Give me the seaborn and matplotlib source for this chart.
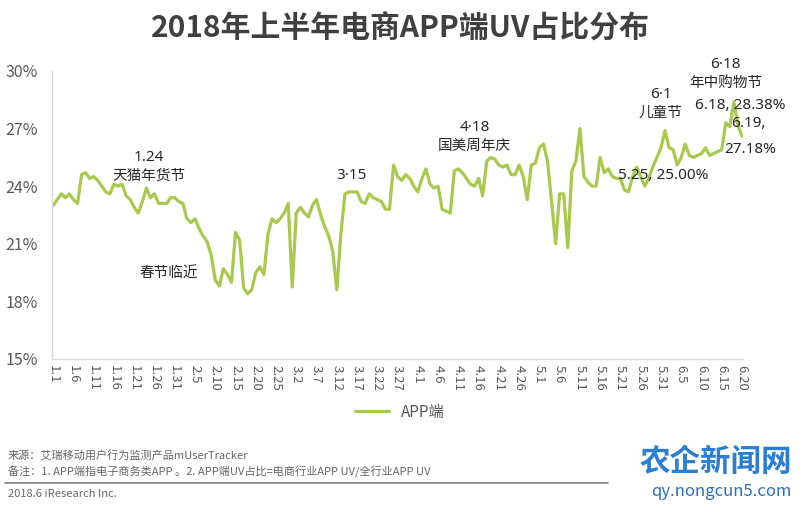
import numpy as np
import pandas as pd
import seaborn as sns
import matplotlib.pyplot as plt

# daily share of e-commerce APP UV, 1.1 - 6.20 (2018), percent
uv_share = [
    23.0, 23.3, 23.6, 23.4, 23.6, 23.3, 23.1, 24.6, 24.7, 24.4,   # 1.1 - 1.10
    24.5, 24.3, 24.0, 23.7, 23.6, 24.1, 24.0, 24.1, 23.5, 23.3,   # 1.11 - 1.20
    22.9, 22.6, 23.2, 23.9, 23.4, 23.6, 23.1, 23.1, 23.1, 23.4,   # 1.21 - 1.30
    23.4, 23.2, 23.1, 22.3, 22.1, 22.3, 21.8, 21.4, 21.1, 20.4,   # 1.31 - 2.9
    19.1, 18.8, 19.7, 19.4, 19.0, 21.6, 21.2, 18.7, 18.4, 18.6,   # 2.10 - 2.19
    19.5, 19.8, 19.4, 21.5, 22.3, 22.1, 22.3, 22.6, 23.1, 18.75,  # 2.20 - 3.1
    22.6, 22.9, 22.6, 22.4, 23.0, 23.3, 22.5, 21.9, 21.4, 20.6,   # 3.2 - 3.11
    18.6, 21.5, 23.6, 23.7, 23.7, 23.7, 23.2, 23.1, 23.6, 23.4,   # 3.12 - 3.21
    23.3, 23.2, 22.8, 22.8, 25.1, 24.5, 24.3, 24.6, 24.4, 24.0,   # 3.22 - 3.31
    23.7, 24.4, 24.9, 24.1, 23.9, 24.0, 22.8, 22.7, 22.6, 24.8,   # 4.1 - 4.10
    24.9, 24.7, 24.4, 24.1, 24.0, 24.4, 23.5, 25.3, 25.5, 25.4,   # 4.11 - 4.20
    25.1, 25.0, 25.1, 24.6, 24.6, 25.1, 24.5, 23.3, 25.1, 25.2,   # 4.21 - 4.30
    26.0, 26.2, 25.3, 23.2, 21.0, 23.6, 23.6, 20.8, 24.8, 25.3,   # 5.1 - 5.10
    27.0, 24.5, 24.2, 24.0, 24.0, 25.5, 24.7, 24.9, 24.5, 24.4,   # 5.11 - 5.20
    24.4, 23.8, 23.7, 24.5, 25.0, 24.5, 24.0, 24.4, 25.0, 25.5,   # 5.21 - 5.30
    26.0, 26.9, 26.0, 25.9, 25.1, 25.5, 26.2, 25.6, 25.5, 25.6,   # 5.31 - 6.9
    25.7, 26.0, 25.6, 25.7, 25.8, 25.9, 27.3, 27.1, 28.38, 27.18, # 6.10 - 6.19
    26.6,                                                         # 6.20
]
tick_labels = ["1.1", "1.6", "1.11", "1.16", "1.21", "1.26", "1.31", "2.5", "2.10",
               "2.15", "2.20", "2.25", "3.2", "3.7", "3.12", "3.17", "3.22", "3.27",
               "4.1", "4.6", "4.11", "4.16", "4.21", "4.26", "5.1", "5.6", "5.11",
               "5.16", "5.21", "5.26", "5.31", "6.5", "6.10", "6.15", "6.20"]
y_ticks = [15, 18, 21, 24, 27, 30]

df = pd.DataFrame({"day": np.arange(len(uv_share)), "share": uv_share})

sns.set_style("white")
plt.rcParams['font.family'] = ['Noto Sans CJK SC', 'DejaVu Sans']

green = '#a9c94d'
gray = '#595959'

fig = plt.figure(figsize=(8, 5.07), dpi=100)
ax = fig.add_axes([0.065, 0.292, 0.864, 0.568])
sns.lineplot(data=df, x="day", y="share", color=green, linewidth=2.3, ax=ax, label="APP端")

ax.set_xlim(-0.3, 170.3)
ax.set_ylim(15, 30)
ax.set_yticks(y_ticks)
ax.set_yticklabels([f"{v}%" for v in y_ticks], color=gray, fontsize=11.5)
ax.set_xticks(np.arange(0, len(uv_share), 5))
ax.set_xticklabels(tick_labels, rotation=-90, color=gray, fontsize=9.5)
ax.tick_params(length=0, pad=4)
ax.tick_params(axis='y', pad=10)
ax.set_xlabel("")
ax.set_ylabel("")
for s in ["top", "right"]:
    ax.spines[s].set_visible(False)
for s in ["left", "bottom"]:
    ax.spines[s].set_color('#d9d9d9')
    ax.spines[s].set_linewidth(1)

ax.legend_.remove()
fig.legend(loc="center", bbox_to_anchor=(0.5, 0.187), frameon=False, fontsize=11,
           handlelength=2.2, labelcolor=gray)

# annotations
txt = dict(ha="center", va="center", fontsize=10.5, color='#262626')
num = dict(txt, family=['Noto Sans', 'DejaVu Sans'], fontsize=11)
ax.text(23.5, 25.47, "1.24", **num)
ax.text(23.5, 24.53, "天猫年货节", **txt)
ax.text(28.5, 19.45, "春节临近", **txt)
ax.text(73.5, 24.53, "3·15", **num)
ax.text(104, 27.03, "4·18", **num)
ax.text(104, 26.09, "国美周年庆", **txt)
ax.text(150.5, 24.53, "5.25, 25.00%", **num)
ax.text(150, 28.75, "6·1", **num)
ax.text(150, 27.81, "儿童节", **txt)
ax.text(166, 30.36, "6·18", **num)
ax.text(166, 29.37, "年中购物节", **txt)
ax.text(169.5, 28.18, "6.18, 28.38%", **num)
ax.text(171.5, 27.29, "6.19,", **num)
ax.text(172, 25.89, "27.18%", **num)

fig.text(0.5, 0.945, "2018年上半年电商APP端UV占比分布", ha="center", va="center",
         fontsize=21.5, fontweight="bold", color='#404040')

foot = dict(ha="left", va="center", fontsize=8, color='#666666')
fig.text(0.01, 1 - 455 / 507, "来源：艾瑞移动用户行为监测产品mUserTracker", **foot)
fig.text(0.01, 1 - 472 / 507, "备注：1. APP端指电子商务类APP 。2. APP端UV占比=电商行业APP UV/全行业APP UV", **foot)
fig.add_artist(plt.Line2D([0.006, 0.76], [1 - 483 / 507] * 2, color='#808080', linewidth=1.2))
fig.text(0.01, 1 - 494 / 507, "2018.6 iResearch Inc.", **foot)

# watermark
fig.text(0.99, 1 - 462 / 507, "农企新闻网", ha="right", va="center", fontsize=22,
         fontweight="bold", color='#2a7fd4')
fig.text(0.99, 1 - 492 / 507, "qy.nongcun5.com", ha="right", va="center", fontsize=12,
         color='#2a6fb8')

fig.savefig("out.png", dpi=100)
